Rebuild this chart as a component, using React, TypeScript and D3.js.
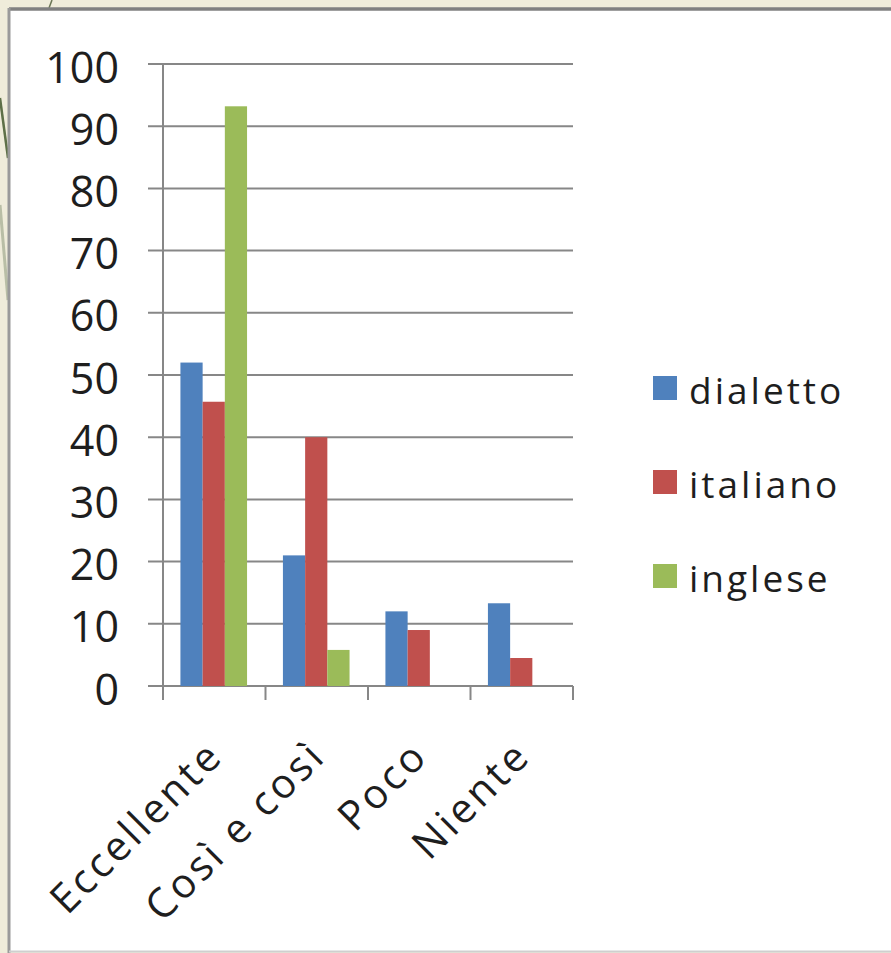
import React from "react";
import * as d3 from "d3";

// Survey: self-assessed knowledge of each language
const categories = ["Eccellente", "Così e così", "Poco", "Niente"];
const seriesNames = ["dialetto", "italiano", "inglese"];
const dialetto = [52, 21, 12, 13.3];
const italiano = [45.7, 40, 9, 4.5];
const inglese = [93.2, 5.8, 0, 0];
const yTicks = [0, 10, 20, 30, 40, 50, 60, 70, 80, 90, 100];

const seriesValues = [dialetto, italiano, inglese];
const seriesColors = ["#4F81BD", "#C0504D", "#9BBB59"];

const W = 891;
const H = 953;

export default function App() {
  const plot = { left: 163, right: 573, top: 64, bottom: 686 };

  const y = d3.scaleLinear().domain([0, 100]).range([plot.bottom, plot.top]);
  const x0 = d3
    .scaleBand<string>()
    .domain(categories)
    .range([plot.left, plot.right])
    .padding(0);
  const bw = x0.bandwidth();
  const x1 = d3
    .scaleBand<string>()
    .domain(seriesNames)
    .range([bw * 0.17, bw * 0.82])
    .padding(0);

  const font = "'Open Sans', 'Noto Sans', sans-serif";
  const textColor = "#1e1e1e";
  const gridColor = "#878787";

  const boundaries = [...categories.map((c) => x0(c) as number), plot.right];

  return (
    <svg
      width={W}
      height={H}
      viewBox={`0 0 ${W} ${H}`}
      style={{ position: "absolute", left: 0, top: 0, display: "block" }}
    >
      {/* slide background */}
      <rect x={0} y={0} width={W} height={H} fill="#EFECDA" />
      {/* decorative strokes at the slide edge */}
      <line x1={0} y1={98} x2={8} y2={158} stroke="#5E7048" strokeWidth={2.5} />
      <line x1={0} y1={205} x2={8} y2={300} stroke="#B9BEA6" strokeWidth={3} />
      <line x1={52} y1={0} x2={49} y2={8} stroke="#6B7656" strokeWidth={1.5} />

      {/* chart frame */}
      <rect x={9} y={9} width={W} height={942} fill="#FFFFFF" />
      <line x1={9} y1={9} x2={W} y2={9} stroke="#808080" strokeWidth={3.5} />
      <line x1={9} y1={8} x2={9} y2={953} stroke="#9A9A9A" strokeWidth={3} />
      <line x1={9} y1={951.5} x2={W} y2={951.5} stroke="#CFCFCF" strokeWidth={2} />

      {/* horizontal gridlines */}
      {yTicks.map((t) => (
        <line
          key={`g${t}`}
          x1={148}
          x2={plot.right}
          y1={y(t)}
          y2={y(t)}
          stroke={gridColor}
          strokeWidth={2}
        />
      ))}

      {/* bars */}
      {categories.map((c, ci) =>
        seriesNames.map((s, si) => {
          const v = seriesValues[si][ci];
          if (!v) return null;
          return (
            <rect
              key={`${c}-${s}`}
              x={(x0(c) as number) + (x1(s) as number)}
              y={y(v)}
              width={x1.bandwidth()}
              height={y(0) - y(v)}
              fill={seriesColors[si]}
            />
          );
        })
      )}

      {/* value axis */}
      <line
        x1={plot.left}
        x2={plot.left}
        y1={plot.top}
        y2={plot.bottom + 14}
        stroke={gridColor}
        strokeWidth={2}
      />
      {/* category axis tick marks */}
      {boundaries.slice(1).map((bx, i) => (
        <line
          key={`t${i}`}
          x1={bx}
          x2={bx}
          y1={plot.bottom}
          y2={plot.bottom + 14}
          stroke={gridColor}
          strokeWidth={2}
        />
      ))}

      {/* value axis labels */}
      {yTicks.map((t) => (
        <text
          key={`yl${t}`}
          x={119}
          y={y(t) + 2}
          textAnchor="end"
          dominantBaseline="central"
          fontFamily={font}
          fontSize={43}
          fill={textColor}
        >
          {t}
        </text>
      ))}

      {/* category labels, rotated */}
      {categories.map((c) => {
        const cx = (x0(c) as number) + bw / 2;
        const ax = cx + 11;
        const ay = plot.bottom + 72;
        return (
          <text
            key={`xl${c}`}
            x={ax}
            y={ay}
            textAnchor="end"
            transform={`rotate(-45 ${ax} ${ay})`}
            fontFamily={font}
            fontSize={41}
            letterSpacing={3.2}
            fill={textColor}
          >
            {c}
          </text>
        );
      })}

      {/* legend */}
      {seriesNames.map((s, i) => {
        const cy = 388 + i * 94;
        return (
          <g key={`lg${s}`}>
            <rect x={653} y={cy - 12} width={24} height={24} fill={seriesColors[i]} />
            <text
              x={689}
              y={cy + 1}
              dominantBaseline="central"
              fontFamily={font}
              fontSize={37}
              letterSpacing={3}
              fill={textColor}
            >
              {s}
            </text>
          </g>
        );
      })}
    </svg>
  );
}
